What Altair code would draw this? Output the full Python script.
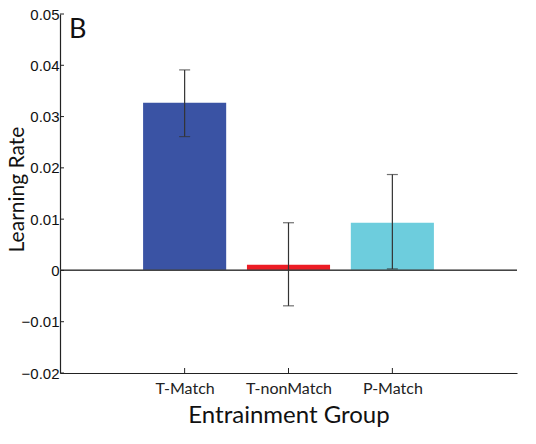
import altair as alt
import pandas as pd

groups = ["T-Match", "T-nonMatch", "P-Match"]
positions = [1, 2, 3]
rates = [0.0327, 0.0011, 0.0093]
err_low = [0.0261, -0.0069, 0.0003]
err_high = [0.0391, 0.0093, 0.0187]
colors = ["#3A53A4", "#ED1C24", "#6DCDDD"]
y_ticks = [-0.02, -0.01, 0, 0.01, 0.02, 0.03, 0.04, 0.05]

df = pd.DataFrame({"group": groups, "pos": positions, "rate": rates,
                   "lo": err_low, "hi": err_high})
ticks_df = pd.DataFrame({"v": y_ticks})

W, H = 457, 359
xs = alt.Scale(domain=[-0.2, 4.2], nice=False, zero=False)
ys = alt.Scale(domain=[-0.02, 0.05], nice=False, zero=False)

label_expr = "datum.value == 1 ? 'T-Match' : datum.value == 2 ? 'T-nonMatch' : 'P-Match'"

bars = alt.Chart(df).transform_calculate(
    x1="datum.pos - 0.4", x2="datum.pos + 0.4"
).mark_bar(opacity=1).encode(
    x=alt.X("x1:Q", scale=xs, axis=alt.Axis(
        values=positions, labelExpr=label_expr, title="Entrainment Group",
        ticks=False, grid=False, domain=True, labels=True,
        domainColor="#222", domainWidth=1.2,
        labelFont="Lato", labelFontSize=16, labelColor="#222", labelPadding=7,
        titleFont="Lato", titleFontSize=24, titleFontWeight="normal",
        titleColor="#111", titlePadding=7)),
    x2="x2:Q",
    y=alt.Y("rate:Q", scale=ys, axis=alt.Axis(
        values=y_ticks, labelExpr="datum.value == 0 ? '0' : format(datum.value, '.2f')",
        title="Learning Rate", ticks=False, grid=False, domain=True, labels=True,
        domainColor="#222", domainWidth=1.2,
        labelFont="Liberation Sans", labelFontSize=15,
        labelColor="#111", labelPadding=1,
        titleFont="Lato", titleFontSize=21, titleFontWeight="normal",
        titleColor="#111", titleX=-37, titleY=175, titleBaseline="alphabetic")),
    y2=alt.datum(0),
    color=alt.Color("group:N", scale=alt.Scale(domain=groups, range=colors), legend=None),
)

zero_line = alt.Chart(df).mark_rule(color="#444", strokeWidth=1.2).encode(
    y=alt.datum(0, scale=ys), x=alt.value(0), x2=alt.value(W))

err_v = alt.Chart(df).mark_rule(color="#333", strokeWidth=1.2).encode(
    x=alt.X("pos:Q", scale=xs), y=alt.Y("lo:Q", scale=ys), y2="hi:Q")
cap_lo = alt.Chart(df).mark_tick(color="#333", thickness=1.2, size=11, orient="horizontal").encode(
    x=alt.X("pos:Q", scale=xs), y=alt.Y("lo:Q", scale=ys))
cap_hi = alt.Chart(df).mark_tick(color="#333", thickness=1.2, size=11, orient="horizontal").encode(
    x=alt.X("pos:Q", scale=xs), y=alt.Y("hi:Q", scale=ys))

y_tick_marks = alt.Chart(ticks_df).mark_rule(color="#222", strokeWidth=1).encode(
    y=alt.Y("v:Q", scale=ys), x=alt.value(0), x2=alt.value(4))
x_tick_marks = alt.Chart(df).mark_rule(color="#222", strokeWidth=1).encode(
    x=alt.X("pos:Q", scale=xs), y=alt.value(H), y2=alt.value(H - 5))

panel_label = alt.Chart(pd.DataFrame({"t": ["B"]})).mark_text(
    font="Lato", fontSize=27, align="left", baseline="top", color="#111"
).encode(text="t:N", x=alt.value(9), y=alt.value(3))

chart = alt.layer(
    bars, zero_line, err_v, cap_lo, cap_hi, y_tick_marks, x_tick_marks, panel_label
).properties(
    width=W, height=H,
    autosize=alt.AutoSizeParams(type="none"),
    padding={"left": 52, "top": 6, "right": 11, "bottom": 63},
    view=alt.ViewBackground(stroke="transparent", strokeOpacity=0),
).configure(
    background="white",
    axis=alt.AxisConfig(grid=False, domain=False, ticks=False, labels=False),
)

chart.save("out.html", embed_options={"renderer": "svg", "actions": False})
